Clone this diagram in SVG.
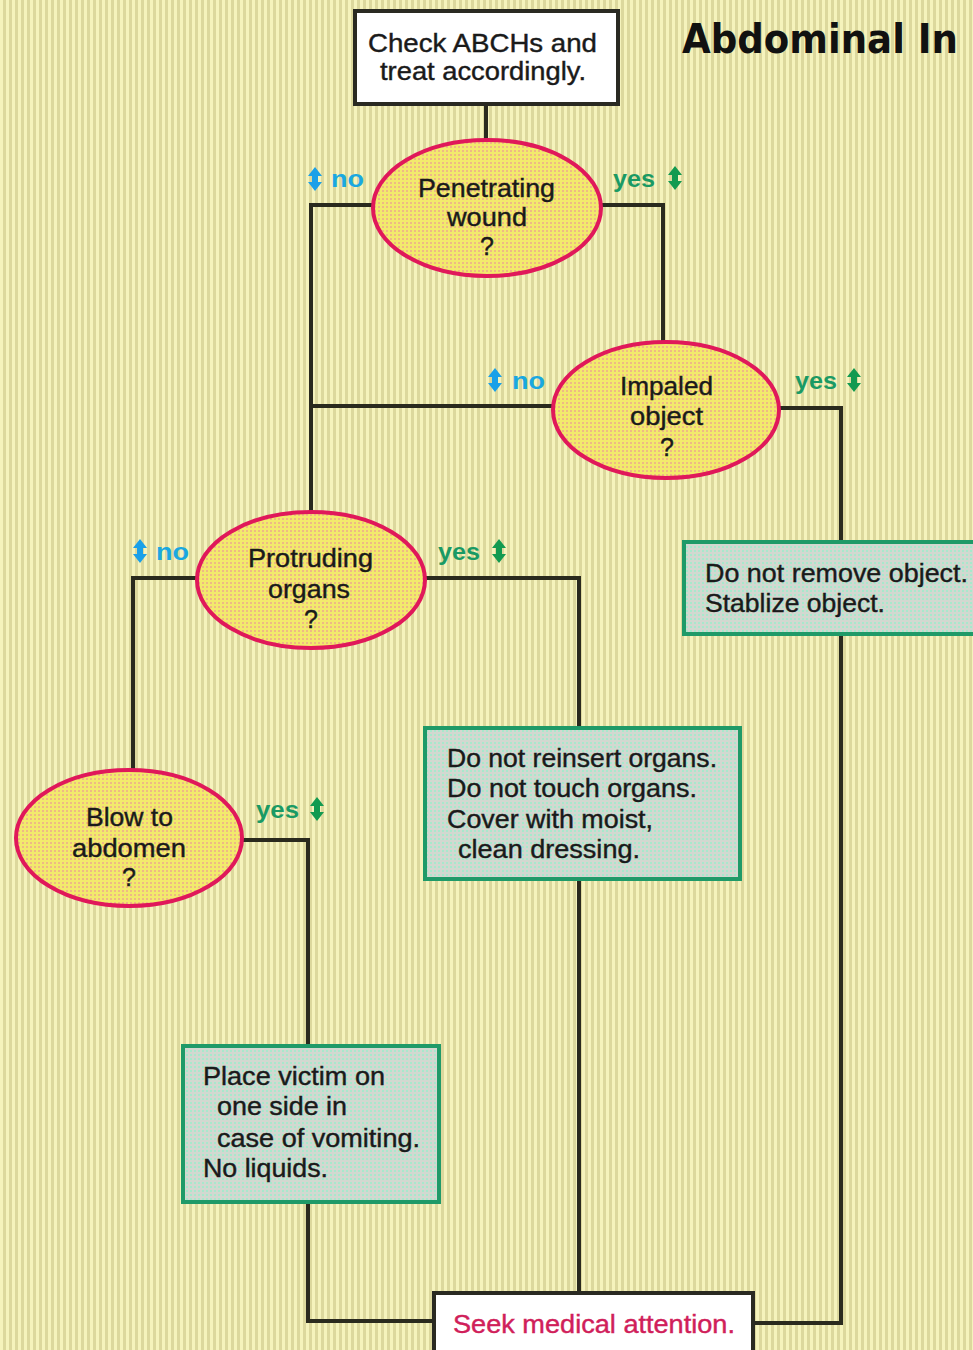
<svg xmlns="http://www.w3.org/2000/svg" width="973" height="1350" viewBox="0 0 973 1350">
<defs>
<pattern id="stripes" x="0" y="0" width="6" height="6" patternUnits="userSpaceOnUse">
<rect width="6" height="6" fill="#f5f3bc"/>
<rect x="3" width="3" height="6" fill="#dcd89d"/>
</pattern>
<pattern id="dots" x="0" y="0" width="4" height="4" patternUnits="userSpaceOnUse">
<rect width="4" height="4" fill="#d2d8d0"/>
<rect x="2" y="2" width="2" height="2" fill="#a8e8cc"/>
</pattern>
<pattern id="ydots" x="0" y="0" width="4" height="4" patternUnits="userSpaceOnUse">
<rect width="4" height="4" fill="#f2ea6c"/>
<rect x="2" y="2" width="2" height="2" fill="#eeba84"/>
</pattern>
<polygon id="arrow" points="0,-12 7,-3 3,-3 3,3 7,3 0,12 -7,3 -3,3 -3,-3 -7,-3"/>
</defs>
<style>
.t{font-family:"Liberation Sans",Arial,sans-serif;font-size:25px;fill:#1a1a1a;stroke:#1a1a1a;stroke-width:0.4}
.c{text-anchor:middle}
.ell{fill:url(#ydots);stroke:#e0185a;stroke-width:4}
.box{fill:url(#dots);stroke:#1f9a68;stroke-width:4}
.wbox{fill:#ffffff;stroke:#2a2a22;stroke-width:4}
.con{fill:none;stroke:#2a2a1e;stroke-width:4}
.no{font-family:"Liberation Sans",Arial,sans-serif;font-size:24px;font-weight:bold;fill:#1aa8e0}
.yes{font-family:"Liberation Sans",Arial,sans-serif;font-size:24px;font-weight:bold;fill:#1a9a64}
.nob{fill:#1aa0e8}
.yesb{fill:#129a50}
.red{fill:#d0205a;stroke:#d0205a}
</style>
<rect width="973" height="1350" fill="url(#stripes)"/>

<g id="title">
<text x="682" y="53" font-family="'DejaVu Sans',sans-serif" font-weight="bold" font-size="41" fill="#111" textLength="276" lengthAdjust="spacingAndGlyphs">Abdominal In</text>
</g>

<g id="connectors">
<polyline class="con" points="486,104 486,140"/>
<polyline class="con" points="373,205 311,205 311,512"/>
<polyline class="con" points="601,205 663,205 663,342"/>
<polyline class="con" points="553,406 311,406"/>
<polyline class="con" points="779,408 841,408 841,541"/>
<polyline class="con" points="841,634 841,1323 754,1323"/>
<polyline class="con" points="197,578 133,578 133,770"/>
<polyline class="con" points="425,578 579,578 579,727"/>
<polyline class="con" points="579,880 579,1292"/>
<polyline class="con" points="242,840 308,840 308,1045"/>
<polyline class="con" points="308,1203 308,1321 433,1321"/>
</g>

<g id="labels">
<use href="#arrow" class="nob" x="315" y="179"/>
<text class="no" x="331" y="187" textLength="33" lengthAdjust="spacingAndGlyphs">no</text>
<text class="yes" x="613" y="187" textLength="42" lengthAdjust="spacingAndGlyphs">yes</text>
<use href="#arrow" class="yesb" x="675" y="178"/>

<use href="#arrow" class="nob" x="495" y="380"/>
<text class="no" x="512" y="389" textLength="33" lengthAdjust="spacingAndGlyphs">no</text>
<text class="yes" x="795" y="389" textLength="42" lengthAdjust="spacingAndGlyphs">yes</text>
<use href="#arrow" class="yesb" x="854" y="380"/>

<use href="#arrow" class="nob" x="140" y="551"/>
<text class="no" x="156" y="560" textLength="33" lengthAdjust="spacingAndGlyphs">no</text>
<text class="yes" x="438" y="560" textLength="42" lengthAdjust="spacingAndGlyphs">yes</text>
<use href="#arrow" class="yesb" x="499" y="551"/>

<text class="yes" x="256" y="818" textLength="43" lengthAdjust="spacingAndGlyphs">yes</text>
<use href="#arrow" class="yesb" x="317" y="809"/>
</g>

<g id="check">
<rect class="wbox" x="355" y="11" width="263" height="93"/>
<text class="t" x="368" y="52" textLength="229" lengthAdjust="spacingAndGlyphs">Check ABCHs and</text>
<text class="t" x="380" y="80" textLength="206" lengthAdjust="spacingAndGlyphs">treat accordingly.</text>
</g>

<g id="penetrating">
<ellipse class="ell" cx="487" cy="208" rx="114" ry="68"/>
<text class="t" x="418" y="197" textLength="137" lengthAdjust="spacingAndGlyphs">Penetrating</text>
<text class="t" x="447" y="226" textLength="80" lengthAdjust="spacingAndGlyphs">wound</text>
<text class="t c" x="487" y="255">?</text>
</g>

<g id="impaled">
<ellipse class="ell" cx="666" cy="410" rx="113" ry="68"/>
<text class="t" x="620" y="395" textLength="93" lengthAdjust="spacingAndGlyphs">Impaled</text>
<text class="t" x="630" y="425" textLength="73" lengthAdjust="spacingAndGlyphs">object</text>
<text class="t c" x="667" y="456">?</text>
</g>

<g id="protruding">
<ellipse class="ell" cx="311" cy="580" rx="114" ry="68"/>
<text class="t" x="248" y="567" textLength="125" lengthAdjust="spacingAndGlyphs">Protruding</text>
<text class="t" x="268" y="598" textLength="82" lengthAdjust="spacingAndGlyphs">organs</text>
<text class="t c" x="311" y="628">?</text>
</g>

<g id="blow">
<ellipse class="ell" cx="129" cy="838" rx="113" ry="68"/>
<text class="t" x="86" y="826" textLength="87" lengthAdjust="spacingAndGlyphs">Blow to</text>
<text class="t" x="72" y="857" textLength="114" lengthAdjust="spacingAndGlyphs">abdomen</text>
<text class="t c" x="129" y="886">?</text>
</g>

<g id="remove">
<rect class="box" x="684" y="542" width="300" height="92"/>
<text class="t" x="705" y="582" textLength="263" lengthAdjust="spacingAndGlyphs">Do not remove object.</text>
<text class="t" x="705" y="612" textLength="180" lengthAdjust="spacingAndGlyphs">Stablize object.</text>
</g>

<g id="reinsert">
<rect class="box" x="425" y="728" width="315" height="151"/>
<text class="t" x="447" y="767" textLength="270" lengthAdjust="spacingAndGlyphs">Do not reinsert organs.</text>
<text class="t" x="447" y="797" textLength="250" lengthAdjust="spacingAndGlyphs">Do not touch organs.</text>
<text class="t" x="447" y="828" textLength="206" lengthAdjust="spacingAndGlyphs">Cover with moist,</text>
<text class="t" x="458" y="858" textLength="182" lengthAdjust="spacingAndGlyphs">clean dressing.</text>
</g>

<g id="place">
<rect class="box" x="183" y="1046" width="256" height="156"/>
<text class="t" x="203" y="1085" textLength="182" lengthAdjust="spacingAndGlyphs">Place victim on</text>
<text class="t" x="217" y="1115" textLength="130" lengthAdjust="spacingAndGlyphs">one side in</text>
<text class="t" x="217" y="1147" textLength="203" lengthAdjust="spacingAndGlyphs">case of vomiting.</text>
<text class="t" x="203" y="1177" textLength="125" lengthAdjust="spacingAndGlyphs">No liquids.</text>
</g>

<g id="seek">
<rect class="wbox" x="434" y="1293" width="319" height="70"/>
<text class="t red" x="453" y="1333" textLength="282" lengthAdjust="spacingAndGlyphs">Seek medical attention.</text>
</g>
</svg>
